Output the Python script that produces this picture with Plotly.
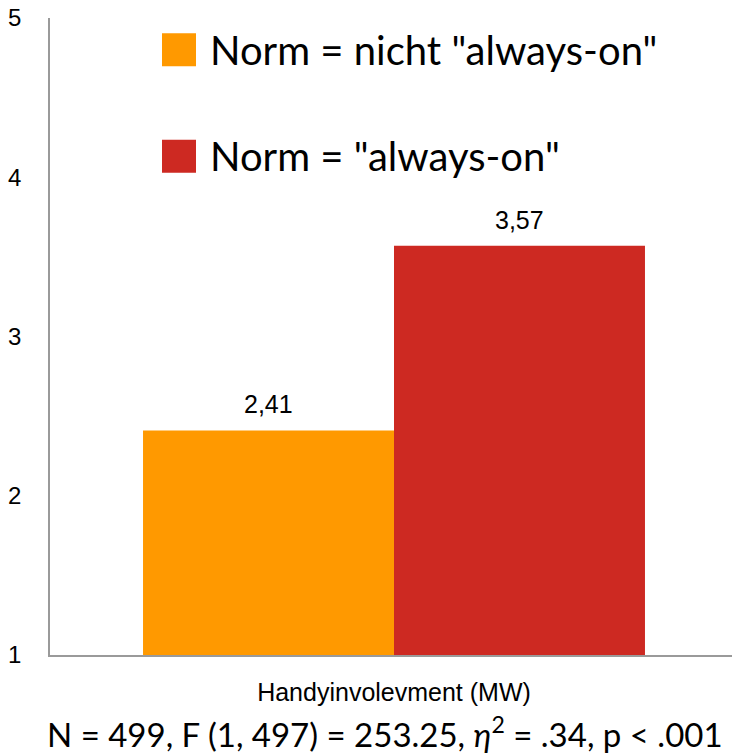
import plotly.graph_objects as go

# Data
category = ["Handyinvolevment (MW)"]
series_names = ['Norm = nicht "always-on"', 'Norm = "always-on"']
series_values = [2.41, 3.57]
series_colors = ["#ff9900", "#cd2922"]
y_ticks = [1, 2, 3, 4, 5]
stats_text = "N = 499, F (1, 497) = 253.25, <i>η</i><sup>2</sup> = .34, p < .001"

PLOT_W, PLOT_H = 682, 637
BARGAP = 0.264
ARIAL = "Liberation Sans, Arial"
CALIBRI_LIKE = "Lato, Open Sans"

fig = go.Figure()
for name, val, col in zip(series_names, series_values, series_colors):
    fig.add_trace(go.Bar(
        x=category, y=[val], name=name,
        marker=dict(color=col, line=dict(width=0)),
        showlegend=False,
    ))

# Value labels above each bar (German decimal comma)
half_group = PLOT_W * (1 - BARGAP) / 2
for i, val in enumerate(series_values):
    shift = (i - (len(series_values) - 1) / 2) * half_group
    fig.add_annotation(x=category[0], y=val, xshift=shift, yshift=10,
                       text=f"{val:.2f}".replace(".", ","), showarrow=False,
                       xanchor="center", yanchor="bottom",
                       font=dict(family=ARIAL, size=25, color="#000"))

# Legend drawn as swatches + labels in the upper part of the plot
legend_y = [0.95, 0.783]
for name, col, ly in zip(series_names, series_colors, legend_y):
    fig.add_shape(type="rect", xref="paper", yref="paper",
                  x0=(162 - 50) / PLOT_W, x1=(196 - 50) / PLOT_W,
                  y0=ly - 16.5 / PLOT_H, y1=ly + 16.5 / PLOT_H,
                  fillcolor=col, line=dict(width=0))
    fig.add_annotation(text=name, xref="paper", yref="paper",
                       x=(208 - 50) / PLOT_W, y=ly, xanchor="left", yanchor="middle",
                       showarrow=False,
                       font=dict(family=CALIBRI_LIKE, size=40, color="#000"))

fig.add_annotation(text=stats_text, xref="paper", yref="paper",
                   x=(385 - 50) / PLOT_W, y=-(732 - 655) / PLOT_H,
                   xanchor="center", yanchor="middle", showarrow=False,
                   font=dict(family=CALIBRI_LIKE, size=33, color="#000"))

fig.update_layout(
    width=732, height=754,
    margin=dict(l=50, r=0, t=18, b=99),
    paper_bgcolor="white", plot_bgcolor="white",
    barmode="group", bargap=BARGAP, bargroupgap=0,
    xaxis=dict(range=[-0.5044, 0.4956], showline=True, linecolor="#9a9a9a",
               linewidth=1.5, showgrid=False, ticks="", ticklabelstandoff=14,
               tickfont=dict(family=ARIAL, size=25, color="#000")),
    yaxis=dict(range=[1, 5], tickvals=y_ticks, showline=True, linecolor="#9a9a9a",
               linewidth=1.5, showgrid=False, zeroline=False, ticks="",
               ticklabelstandoff=22,
               tickfont=dict(family=ARIAL, size=24, color="#000")),
)

fig.write_html("out.html")
